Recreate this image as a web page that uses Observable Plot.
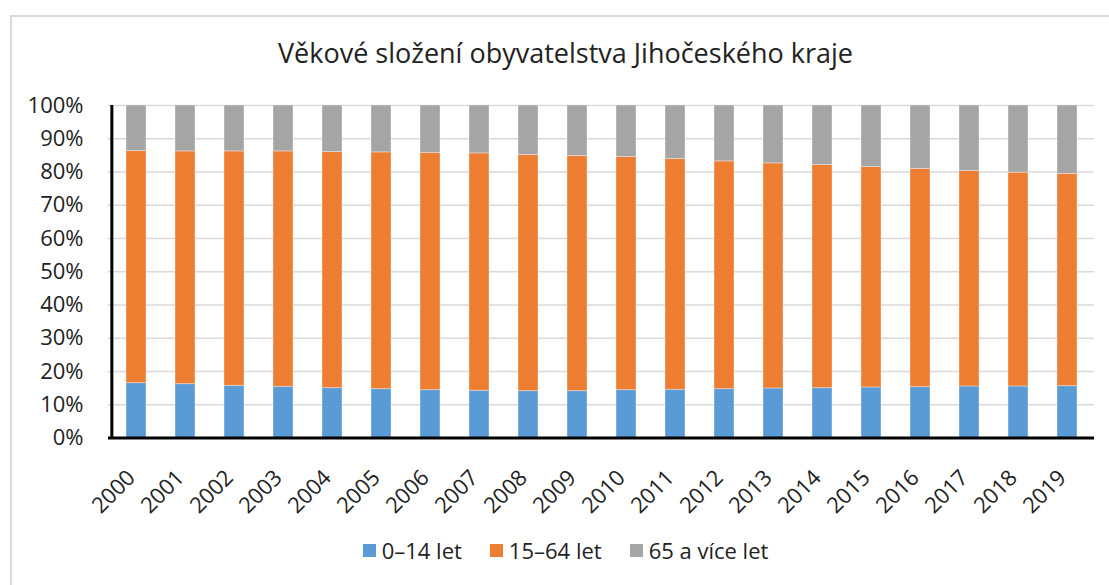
<!DOCTYPE html>
<html>
<head>
<meta charset="utf-8">
<script src="https://cdn.jsdelivr.net/npm/d3@7"></script>
<script src="https://cdn.jsdelivr.net/npm/@observablehq/plot@0.6"></script>
<style>
  html, body { margin: 0; padding: 0; background: #fff; }
  #wrap { position: relative; width: 1109px; height: 585px; overflow: hidden; font-family: "Open Sans", sans-serif; color: #222; }
  #border { position: absolute; left: 10px; top: 15px; width: 1200px; height: 700px; border: 2px solid #d9d9d9; box-sizing: border-box; }
  #title { position: relative; height: 75px; box-sizing: border-box; padding-top: 40px; padding-left: 22px; text-align: center; font-size: 27px; line-height: 26px; }
  #chart { position: relative; height: 450px; }
  #chart svg { overflow: visible; }
  #legend { position: relative; height: 60px; display: flex; justify-content: center; padding-left: 22px; box-sizing: border-box; padding-top: 0px; margin-top: -5px; font-size: 22px; line-height: 24px; }
  .item { display: flex; align-items: center; margin: 0 14px; }
  .sw { width: 13px; height: 13px; margin-right: 6px; }
</style>
</head>
<body>
<div id="wrap">
  <div id="border"></div>
  <div id="title">Věkové složení obyvatelstva Jihočeského kraje</div>
  <div id="chart"></div>
  <div id="legend"></div>
</div>
<script>
const years = ["2000","2001","2002","2003","2004","2005","2006","2007","2008","2009",
               "2010","2011","2012","2013","2014","2015","2016","2017","2018","2019"];
const groups = ["0–14 let", "15–64 let", "65 a více let"];
const colors = ["#5b9bd5", "#ed7d31", "#a5a5a5"];
const young  = [16.5,16.2,15.7,15.4,15.0,14.7,14.4,14.2,14.1,14.1,14.4,14.5,14.7,14.9,15.0,15.2,15.3,15.5,15.5,15.6];
const adult  = [69.8,70.0,70.5,70.8,71.0,71.2,71.3,71.4,71.0,70.7,70.1,69.4,68.5,67.7,67.1,66.3,65.6,64.8,64.3,63.8];
const senior = [13.7,13.8,13.8,13.8,14.0,14.1,14.3,14.4,14.9,15.2,15.5,16.1,16.8,17.4,17.9,18.5,19.1,19.7,20.2,20.6];
const yTicks = [0,10,20,30,40,50,60,70,80,90,100];

const series = [young, adult, senior];
const data = [];
series.forEach((vals, gi) => vals.forEach((v, i) => data.push({year: years[i], group: groups[gi], value: v})));

const W = 1109, ML = 108, MR = 15;
const halfStep = (W - ML - MR) / years.length / 2;

const chart = Plot.plot({
  width: W,
  height: 450,
  marginLeft: ML,
  marginRight: MR,
  marginTop: 30,
  marginBottom: 87.5,
  style: { fontFamily: "Open Sans, sans-serif", fontSize: "22px", color: "#222", background: "transparent", overflow: "visible" },
  x: { domain: years, paddingInner: 0.594, paddingOuter: 0.297, label: null },
  y: { domain: [0, 100], label: null },
  color: { domain: groups, range: colors },
  marks: [
    Plot.gridY(yTicks, { stroke: "#d9d9d9", strokeOpacity: 1, strokeWidth: 1.5 }),
    Plot.axisY(yTicks, { tickFormat: d => d + "%", tickSize: 0, tickPadding: 25, label: null }),
    Plot.axisX({ tickSize: 0, tickPadding: 36, tickRotate: -45, dx: -5, label: null }),
    Plot.barY(data, Plot.stackY({ x: "year", y: "value", fill: "group", order: groups, stroke: "white", strokeOpacity: 0.35, strokeWidth: 1 })),
    Plot.ruleX([years[0]], { x: d => d, dx: -halfStep, stroke: "#000000", strokeWidth: 3, strokeOpacity: 1 }),
    Plot.ruleY([0], { stroke: "#000000", strokeWidth: 3, strokeOpacity: 1 })
  ]
});
document.getElementById("chart").appendChild(chart);

const legend = document.getElementById("legend");
groups.forEach((g, i) => {
  const it = document.createElement("div");
  it.className = "item";
  const sw = document.createElement("div");
  sw.className = "sw";
  sw.style.background = colors[i];
  const t = document.createElement("span");
  t.textContent = g;
  it.appendChild(sw); it.appendChild(t);
  legend.appendChild(it);
});
</script>
</body>
</html>
